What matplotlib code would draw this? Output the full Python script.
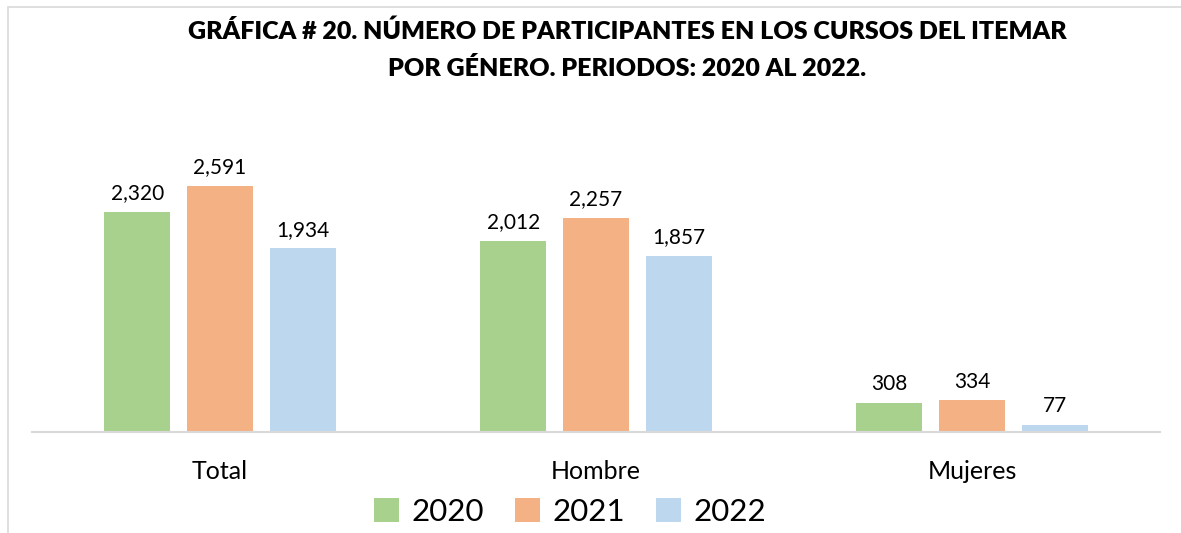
import matplotlib
matplotlib.use("Agg")
import matplotlib.pyplot as plt
from matplotlib.patches import Rectangle
import numpy as np

categories = ["Total", "Hombre", "Mujeres"]
years = ["2020", "2021", "2022"]
vals_2020 = [2320, 2012, 308]
vals_2021 = [2591, 2257, 334]
vals_2022 = [1934, 1857, 77]
colors = ["#A9D18E", "#F4B183", "#BDD7EE"]

plt.rcParams['font.family'] = ['Lato', 'DejaVu Sans']

W, H = 1181, 533
fig = plt.figure(figsize=(W / 100, H / 100), dpi=100)

# chart border (only top and left visible in the crop)
fig.patches.append(Rectangle((8 / W, -0.1), 1.2, 1 - 7 / H + 0.1,
                             transform=fig.transFigure, fill=False,
                             edgecolor="#D9D9D9", linewidth=1.2))

# axes placed in pixel terms: baseline at y=432, from x=32 to x=1160
ax = fig.add_axes([32 / W, (H - 432) / H, (1160 - 32) / W, (432 - 147) / H])
ax.set_xlim(-0.5, 2.5)
ax.set_ylim(0, 3000)

x = np.arange(len(categories))
step = 0.22
width = 0.175
series = [vals_2020, vals_2021, vals_2022]
for i, (vals, yr, c) in enumerate(zip(series, years, colors)):
    bars = ax.bar(x + (i - 1) * step, vals, width, color=c, label=yr)
    for b, v in zip(bars, vals):
        ax.text(b.get_x() + b.get_width() / 2, v + 90, f"{v:,}",
                ha="center", va="bottom", fontsize=15, color="#000000")

for s in ["top", "right", "left"]:
    ax.spines[s].set_visible(False)
ax.spines["bottom"].set_color("#D9D9D9")
ax.spines["bottom"].set_linewidth(1.5)
ax.set_yticks([])
ax.set_xticks(x)
ax.set_xticklabels(categories, fontsize=18)
ax.tick_params(axis="x", length=0, pad=20)

fig.text(627 / W, 1 - 31 / H, "GRÁFICA # 20. NÚMERO DE PARTICIPANTES EN LOS CURSOS DEL ITEMAR",
         ha="center", va="center", fontsize=18, fontweight="heavy")
fig.text(627 / W, 1 - 69 / H, "POR GÉNERO. PERIODOS: 2020 AL 2022.",
         ha="center", va="center", fontsize=18, fontweight="heavy")

fig.legend(loc="center", bbox_to_anchor=(570 / W, 1 - 512 / H), ncol=3,
           frameon=False, fontsize=22.5, handlelength=0.8, handleheight=0.8,
           handletextpad=0.4, columnspacing=1.0)

fig.savefig("out.png", dpi=100)
